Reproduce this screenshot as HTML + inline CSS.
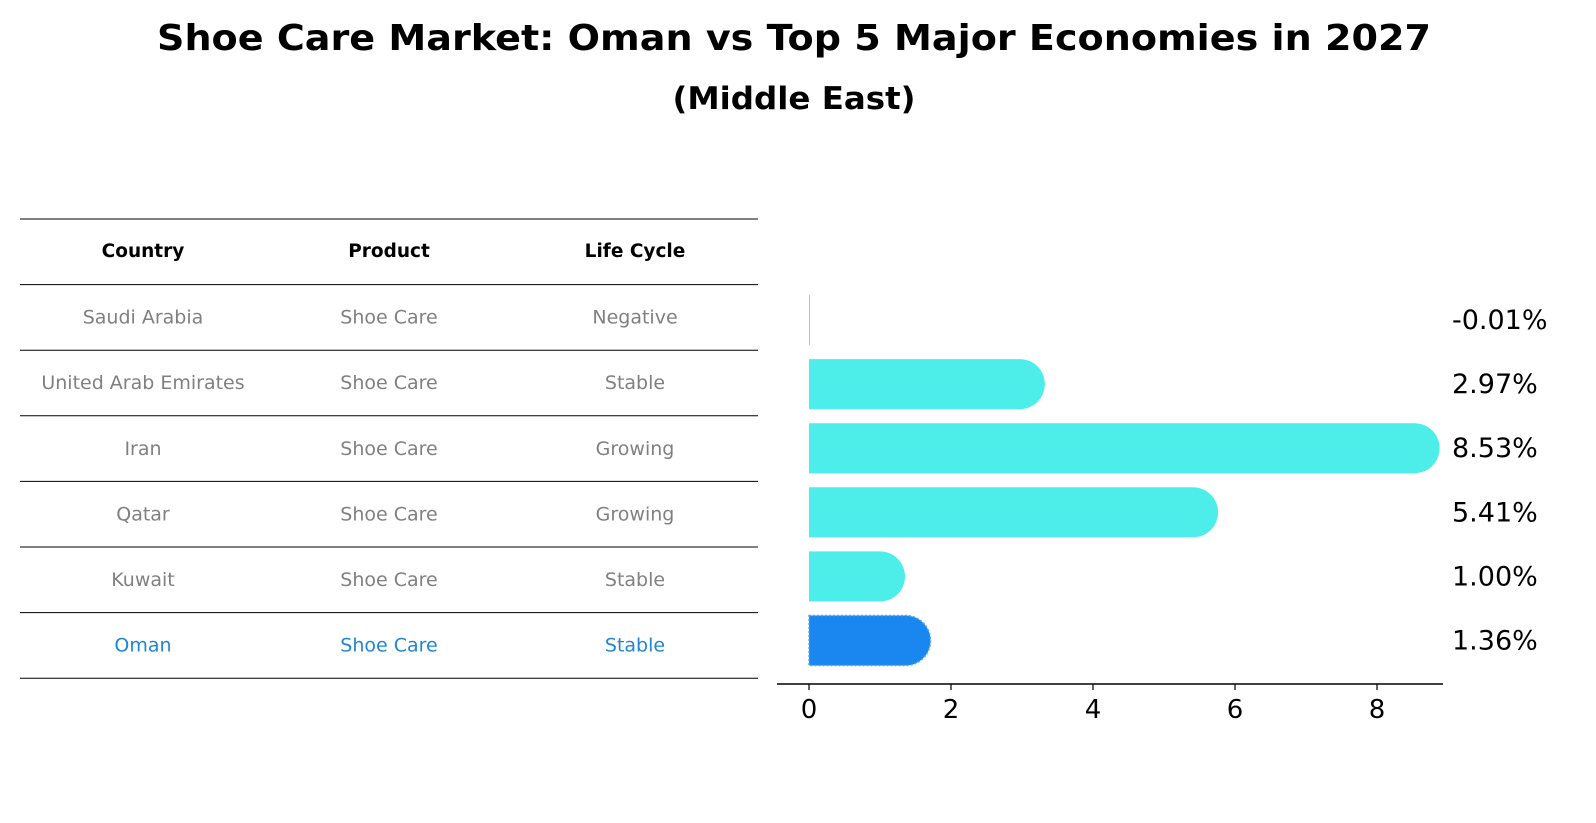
<!DOCTYPE html>
<html><head><meta charset="utf-8"><style>
html,body{margin:0;padding:0;background:#fff;overflow:hidden;width:1596px;height:823px;font-family:"Liberation Sans","DejaVu Sans",sans-serif;}
svg{display:block;}
svg text{font-family:"DejaVu Sans","Liberation Sans",sans-serif;}
</style></head><body>
<svg id="c" width="1596" height="823" viewBox="0 0 1596 823">
<text x="794" y="50" text-anchor="middle" font-size="36" font-weight="bold" textLength="1274" lengthAdjust="spacingAndGlyphs">Shoe Care Market: Oman vs Top 5 Major Economies in 2027</text>
<text x="794" y="109" text-anchor="middle" font-size="31" font-weight="bold" textLength="243" lengthAdjust="spacingAndGlyphs">(Middle East)</text>
<g id="table"></g>
<g id="bars"></g>
</svg>
<script>
const countries=["Saudi Arabia","United Arab Emirates","Iran","Qatar","Kuwait","Oman"];
const products=["Shoe Care","Shoe Care","Shoe Care","Shoe Care","Shoe Care","Shoe Care"];
const lifeCycles=["Negative","Stable","Growing","Growing","Stable","Stable"];
const values=[-0.01,2.97,8.53,5.41,1.00,1.36];
const valueLabels=["-0.01%","2.97%","8.53%","5.41%","1.00%","1.36%"];
const ticks=[0,2,4,6,8];
const NS="http://www.w3.org/2000/svg";
function mk(tag,attrs,parent){const e=document.createElementNS(NS,tag);for(const k in attrs)e.setAttribute(k,attrs[k]);parent.appendChild(e);return e;}
const tg=document.getElementById('table');
const rowY=i=>219+65.6*i;
for(let i=0;i<=7;i++){const l=mk('line',{x1:20,x2:758,y1:rowY(i),y2:rowY(i),stroke:'#000','stroke-width':1},tg);

}
const colX=[143,389,635];
["Country","Product","Life Cycle"].forEach((h,j)=>{const t=mk('text',{x:colX[j],y:rowY(0)+38,'text-anchor':'middle','font-size':18.5,'font-weight':'bold'},tg);t.textContent=h;

});
countries.forEach((c,i)=>{const cells=[c,products[i],lifeCycles[i]];const col=c==="Oman"?"#1f86d6":"#808080";
cells.forEach((v,j)=>{const t=mk('text',{x:colX[j],y:rowY(i+1)+39,'text-anchor':'middle','font-size':19,fill:col},tg);t.textContent=v;

});});
const bg=document.getElementById('bars');
const x=v=>809+v*71;
const y=i=>320+64.1*i;
const h=50,r=25;
values.forEach((v,i)=>{const x0=x(0),x1=x(v),yc=y(i),col=countries[i]==="Oman"?"#1a86f0":"#4deee9";
let p;
if(Math.abs(x1-x0)<3){p=mk('rect',{x:x0,y:yc-h/2,width:1,height:h,fill:col},bg);}
else{p=mk('path',{d:`M${x0},${yc-h/2} H${x1} A${r},${r} 0 0 1 ${x1},${yc+h/2} H${x0} Z`,fill:col},bg);
if(countries[i]==="Oman"){p.setAttribute('stroke','#5aa8e8');p.setAttribute('stroke-dasharray','2,2');p.setAttribute('stroke-width','1.5');}}


const t=mk('text',{x:1452,y:yc+9,'font-size':27},bg);t.textContent=valueLabels[i];

});
const ax=mk('line',{x1:777,x2:1443,y1:684,y2:684,stroke:'#000','stroke-width':1.5},bg);


ticks.forEach(tv=>{const tk=mk('line',{x1:x(tv),x2:x(tv),y1:684,y2:690,stroke:'#000','stroke-width':1.2},bg);


const t=mk('text',{x:x(tv),y:718,'text-anchor':'middle','font-size':26},bg);t.textContent=tv;

});
</script>
</body></html>
